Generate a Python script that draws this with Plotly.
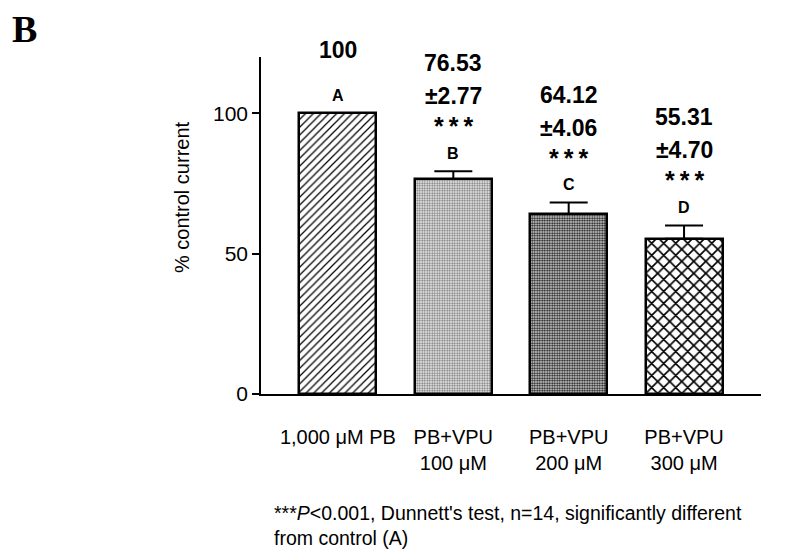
import plotly.graph_objects as go

categories = ["1,000 μM PB", "PB+VPU<br>100 μM", "PB+VPU<br>200 μM", "PB+VPU<br>300 μM"]
means = [100, 76.53, 64.12, 55.31]
sems = [0, 2.77, 4.06, 4.70]
group_letters = ["A", "B", "C", "D"]
mean_labels = ["100", "76.53", "64.12", "55.31"]
sem_labels = [None, "±2.77", "±4.06", "±4.70"]
sig_labels = [None, "*\u2009*\u2009*", "*\u2009*\u2009*", "*\u2009*\u2009*"]
y_ticks = [0, 50, 100]

pattern_shapes = ["/", "+", ".", "x"]
pattern_sizes = [5.5, 2.5, 2.5, 8.5]
pattern_solidity = [0.22, 0.3, 0.55, 0.35]
pattern_fg = ["black", "#5a5a5a", "#1a1a1a", "black"]
pattern_bg = ["white", "#dcdcdc", "#f0f0f0", "white"]

xs = list(range(len(categories)))

fig = go.Figure()
for i in xs:
    fig.add_trace(go.Bar(
        x=[i], y=[means[i]], width=0.667,
        marker=dict(color=pattern_bg[i], line=dict(color="black", width=2.5),
                    pattern=dict(shape=pattern_shapes[i], size=pattern_sizes[i],
                                 solidity=pattern_solidity[i], fgcolor=pattern_fg[i],
                                 bgcolor=pattern_bg[i], fillmode="replace")),
        error_y=dict(type="data", array=[sems[i]], arrayminus=[0], symmetric=False,
                     visible=sems[i] > 0, color="black", thickness=2, width=19),
        showlegend=False, hoverinfo="skip",
    ))

FONT = "Arial, Liberation Sans"
ann = []
for i in xs:
    top = means[i] + sems[i]
    ann.append(dict(x=i, y=top, xref="x", yref="y", text="<b>%s</b>" % group_letters[i],
                    showarrow=False, yanchor="middle", yshift=18,
                    font=dict(family=FONT, size=16, color="black")))
    if sig_labels[i]:
        ann.append(dict(x=i, y=top, xref="x", yref="y", text="<b>%s</b>" % sig_labels[i],
                        showarrow=False, yanchor="middle", yshift=45,
                        font=dict(family=FONT, size=25, color="black")))
        ann.append(dict(x=i, y=top, xref="x", yref="y", text="<b>%s</b>" % sem_labels[i],
                        showarrow=False, yanchor="middle", yshift=75,
                        font=dict(family=FONT, size=23, color="black")))
        ann.append(dict(x=i, y=top, xref="x", yref="y", text="<b>%s</b>" % mean_labels[i],
                        showarrow=False, yanchor="middle", yshift=108,
                        font=dict(family=FONT, size=23, color="black")))
    else:
        ann.append(dict(x=i, y=top, xref="x", yref="y", text="<b>%s</b>" % mean_labels[i],
                        showarrow=False, yanchor="middle", yshift=63,
                        font=dict(family=FONT, size=23, color="black")))

# page body has an 8px default margin, so the figure is drawn 8px in from the window corner
OFF = 8
W, H = 809 - OFF, 557 - OFF
L, T = 261 - OFF, 57 - OFF
pw, ph = 500.5, 337
R, B = W - L - pw, H - T - ph


def px(x):
    return (x - OFF - L) / pw


def py(y):
    return 1 - (y - OFF - T) / ph


ann.append(dict(x=px(10), y=py(29), xref="paper", yref="paper", xanchor="left", yanchor="middle",
                text="<b>B</b>", showarrow=False,
                font=dict(family="Liberation Serif, Times New Roman", size=38, color="black")))
ann.append(dict(x=px(182), y=py(197), xref="paper", yref="paper", xanchor="center",
                yanchor="middle", text="% control current", showarrow=False, textangle=-90,
                font=dict(family=FONT, size=20, color="black")))
ann.append(dict(x=px(272), y=py(525), xref="paper", yref="paper", xanchor="left", yanchor="middle",
                align="left",
                text="***<i>P</i><0.001, Dunnett's test, n=14, significantly different<br>from control (A)",
                showarrow=False,
                font=dict(family=FONT, size=19.5, color="black")))

fig.update_layout(
    width=W, height=H, margin=dict(l=L, r=R, t=T, b=B, autoexpand=False),
    paper_bgcolor="white", plot_bgcolor="white",
    annotations=ann, bargap=0,
    font=dict(family=FONT, color="black"),
    xaxis=dict(range=[-0.667, 3.667], tickmode="array", tickvals=xs, ticktext=categories,
               showline=True, linecolor="black", linewidth=1.5, ticks="", showgrid=False,
               zeroline=False, tickfont=dict(size=20, color="black"), fixedrange=True,
               automargin=False, ticklabelstandoff=24),
    yaxis=dict(range=[0, 120], tickmode="array", tickvals=y_ticks, showline=True,
               linecolor="black", linewidth=1.5, ticks="outside", ticklen=7, tickwidth=1.5,
               tickcolor="black", showgrid=False, zeroline=False,
               tickfont=dict(size=21, color="black"), fixedrange=True, automargin=False),
)
fig.write_html("out.html")
